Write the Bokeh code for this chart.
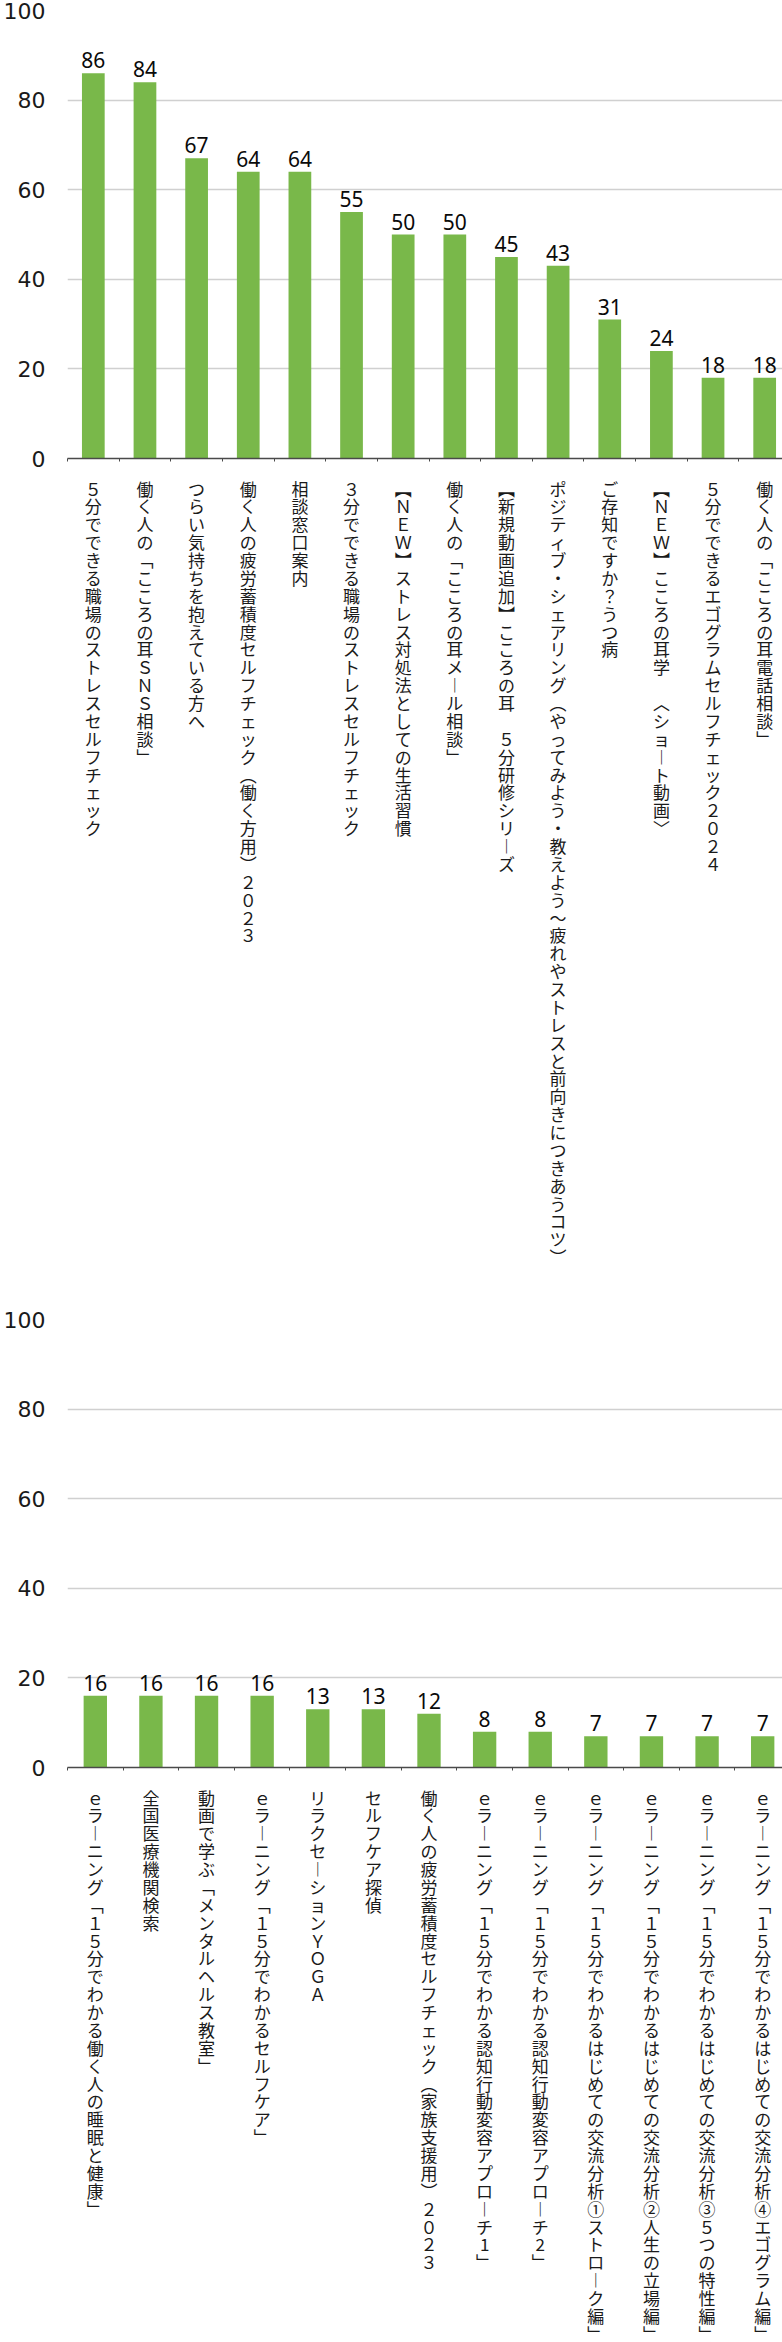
import numpy as np
from bokeh.plotting import figure
from bokeh.models import Range1d, FixedTicker, ColumnDataSource
from bokeh.layouts import column
from bokeh.embed import file_html
from bokeh.resources import INLINE
from bokeh.core.properties import value

# ---------------- data ----------------
top_labels = [
    "５分でできる職場のストレスセルフチェック",
    "働く人の「こころの耳ＳＮＳ相談」",
    "つらい気持ちを抱えている方へ",
    "働く人の疲労蓄積度セルフチェック（働く方用）２０２３",
    "相談窓口案内",
    "３分でできる職場のストレスセルフチェック",
    "【ＮＥＷ】ストレス対処法としての生活習慣",
    "働く人の「こころの耳メール相談」",
    "【新規動画追加】こころの耳 ５分研修シリーズ",
    "ポジティブ・シェアリング（やってみよう・教えよう〜疲れやストレスと前向きにつきあうコツ）",
    "ご存知ですか？うつ病",
    "【ＮＥＷ】こころの耳学 ＜ショート動画＞",
    "５分でできるエゴグラムセルフチェック２０２４",
    "働く人の「こころの耳電話相談」",
]
top_values = [86, 84, 67, 64, 64, 55, 50, 50, 45, 43, 31, 24, 18, 18]

bottom_labels = [
    "ｅラーニング「１５分でわかる働く人の睡眠と健康」",
    "全国医療機関検索",
    "動画で学ぶ「メンタルヘルス教室」",
    "ｅラーニング「１５分でわかるセルフケア」",
    "リラクセーションＹＯＧＡ",
    "セルフケア探偵",
    "働く人の疲労蓄積度セルフチェック（家族支援用）２０２３",
    "ｅラーニング「１５分でわかる認知行動変容アプローチ1」",
    "ｅラーニング「１５分でわかる認知行動変容アプローチ2」",
    "ｅラーニング「１５分でわかるはじめての交流分析①ストローク編」",
    "ｅラーニング「１５分でわかるはじめての交流分析②人生の立場編」",
    "ｅラーニング「１５分でわかるはじめての交流分析③５つの特性編」",
    "ｅラーニング「１５分でわかるはじめての交流分析④エゴグラム編」",
]
bottom_values = [16, 16, 16, 16, 13, 13, 12, 8, 8, 7, 7, 7, 7]

y_ticks = [0, 20, 40, 60, 80, 100]

# vertical-writing presentation forms for stacked labels
VERT = {"「": "﹁", "」": "﹂", "（": "︵", "）": "︶", "【": "︻", "】": "︼",
        "＜": "︿", "＞": "﹀", "ー": "︱", " ": "　"}


def vertical(s):
    return "\n".join(VERT.get(c, c) for c in s)


BAR = "#79b84a"
GRID = "#d0d0d0"
AXIS = "#4a4a4a"
LABEL_FONT = "Noto Sans CJK JP"


def make_chart(labels, values, bar_width, top_border):
    n = len(labels)
    xs = list(np.arange(n) + 0.5)
    src = ColumnDataSource(dict(x=xs, top=values, txt=[str(v) for v in values]))
    p = figure(frame_width=723, frame_height=448,
               x_range=Range1d(0, n), y_range=Range1d(0, 100),
               output_backend="svg", toolbar_location=None,
               min_border_left=50, min_border_right=1,
               min_border_top=top_border, min_border_bottom=0)
    p.outline_line_color = None
    p.background_fill_color = "white"
    p.border_fill_color = "white"

    p.vbar(x="x", top="top", width=bar_width, bottom=0, source=src,
           fill_color=BAR, line_color=None)
    p.text(x="x", y="top", text="txt", source=src,
           text_align="center", text_baseline="bottom", y_offset=-5,
           text_font=value("Noto Sans"), text_font_size="21px",
           text_color="#0a0a0a")

    # y axis
    ya = p.yaxis[0]
    ya.ticker = FixedTicker(ticks=y_ticks)
    ya.axis_line_color = None
    ya.major_tick_line_color = None
    ya.minor_tick_line_color = None
    ya.major_label_text_font = "DejaVu Sans"
    ya.major_label_text_font_size = "22px"
    ya.major_label_text_color = "#1a1a1a"
    ya.major_label_standoff = 16
    p.ygrid.ticker = FixedTicker(ticks=y_ticks)
    p.ygrid.grid_line_color = GRID
    p.ygrid.grid_line_width = 1.5
    p.xgrid.grid_line_color = None

    # x axis with stacked vertical labels
    xa = p.xaxis[0]
    xa.ticker = FixedTicker(ticks=xs, minor_ticks=list(range(n + 1)))
    xa.major_label_overrides = {float(x): vertical(l) for x, l in zip(xs, labels)}
    xa.axis_line_color = AXIS
    xa.axis_line_width = 1.5
    xa.major_tick_line_color = None
    xa.major_tick_out = 0
    xa.major_tick_in = 0
    xa.minor_tick_line_color = AXIS
    xa.minor_tick_out = 3
    xa.minor_tick_in = 0
    xa.major_label_text_font = LABEL_FONT
    xa.major_label_text_font_size = "17px"
    xa.major_label_text_color = "#1a1a1a"
    xa.major_label_text_line_height = 0.715
    xa.major_label_standoff = 14
    xa.major_label_orientation = "horizontal"
    return p


p1 = make_chart(top_labels, top_values, 0.44, 10)
p2 = make_chart(bottom_labels, bottom_values, 0.42, 47)

layout = column(p1, p2, spacing=0)
open("out.html", "w").write(file_html(layout, INLINE, title=""))
